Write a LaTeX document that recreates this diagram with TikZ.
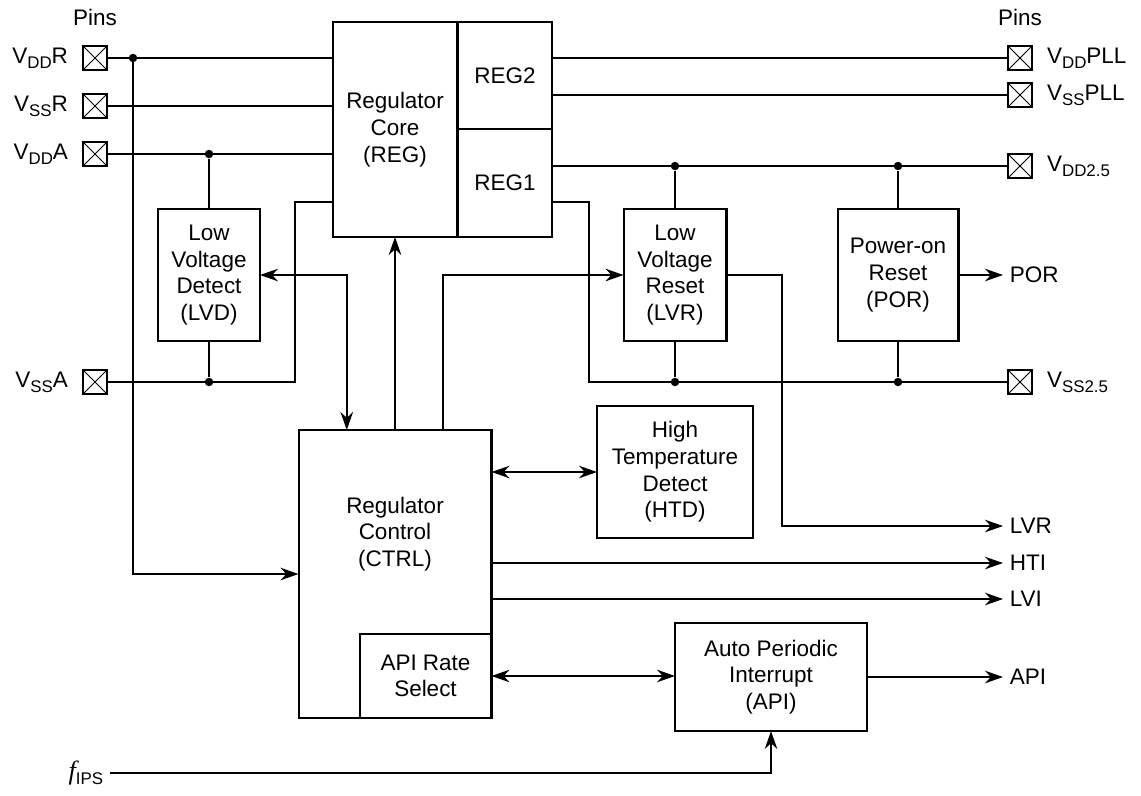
\documentclass[tikz,border=0pt]{standalone}
\usepackage{fontspec}
\setmainfont{Liberation Sans}
\newfontfamily\fserif{Liberation Serif}
\usetikzlibrary{arrows.meta,calc,positioning}
\newcommand{\lowtx}[1]{\raisebox{-0.4ex}{\fontsize{9.6}{10}\selectfont #1}}

\begin{document}
\begin{tikzpicture}[x=0.02cm,y=-0.02cm,line width=1.15pt,
  every node/.style={font=\fontsize{12.8}{15.2}\selectfont,align=center},
  blk/.style={draw,inner sep=0pt,outer sep=0pt},
  padbox/.style={draw,line width=0.8pt,minimum size=0.48cm,inner sep=0pt,
    path picture={\draw[line width=0.5pt] (path picture bounding box.north west)--(path picture bounding box.south east)
      (path picture bounding box.north east)--(path picture bounding box.south west);}},
  arr/.style={-{Stealth[length=3.6mm,width=2.5mm]}},
  darr/.style={{Stealth[length=3.6mm,width=2.5mm]}-{Stealth[length=3.6mm,width=2.5mm]}},
  dot/.style={circle,fill,inner sep=0pt,minimum size=0.17cm}]
  \useasboundingbox (0,0) rectangle (1141,795);
  % blocks
  \node[blk,minimum width=2.5cm,minimum height=4.3cm] (regcore) at (395,129.5) {Regulator\\Core\\(REG)};
  \node[blk,minimum width=1.9cm,minimum height=2.14cm,anchor=north west] (reg2) at (regcore.north east) {REG2};
  \node[blk,minimum width=1.9cm,minimum height=2.16cm,anchor=north west] (reg1) at (reg2.south west) {REG1};
  \node[blk,minimum width=2.04cm,minimum height=2.64cm] (lvd) at (209,275) {Low\\Voltage\\Detect\\(LVD)};
  \node[blk,minimum width=2.06cm,minimum height=2.64cm] (lvr) at (675,275) {Low\\Voltage\\Reset\\(LVR)};
  \node[blk,minimum width=2.42cm,minimum height=2.64cm] (por) at (898,275) {Power-on\\Reset\\(POR)};
  \node[blk,minimum width=3.12cm,minimum height=2.64cm] (htd) at (675,472) {High\\Temperature\\Detect\\(HTD)};
  \node[blk,minimum width=3.86cm,minimum height=5.76cm] (ctrl) at (395,574) {};
  \node (ctrltxt) at (395,534) {Regulator\\Control\\(CTRL)};
  \node[blk,minimum width=2.64cm,minimum height=1.68cm,anchor=south east] (apirs) at (ctrl.south east) {API Rate\\Select};
  \node[blk,minimum width=3.84cm,minimum height=2.16cm] (api) at (771,677) {Auto Periodic\\Interrupt\\(API)};
  % pins
  \node (pinsl) at (95,17) {Pins};
  \node (pinsr) at (1020,17) {Pins};
  \node[padbox,label={[label distance=1.5mm]left:V\lowtx{DD}R}] (pvddr) at (95,58) {};
  \node[padbox,label={[label distance=1.5mm]left:V\lowtx{SS}R}] (pvssr) at (95,106) {};
  \node[padbox,label={[label distance=1.5mm]left:V\lowtx{DD}A}] (pvdda) at (95,154) {};
  \node[padbox,label={[label distance=1.5mm]left:V\lowtx{SS}A}] (pvssa) at (95,382) {};
  \node[padbox,label={[label distance=1.5mm]right:V\lowtx{DD}PLL}] (pvddpll) at (1020,58) {};
  \node[padbox,label={[label distance=1.5mm]right:V\lowtx{SS}PLL}] (pvsspll) at (1020,95) {};
  \node[padbox,label={[label distance=1.5mm]right:V\lowtx{DD2.5}}] (pvdd25) at (1020,166) {};
  \node[padbox,label={[label distance=1.5mm]right:V\lowtx{SS2.5}}] (pvss25) at (1020,382) {};
  % outputs
  \node[anchor=west] (opor) at (1003,275) {POR};
  \node[anchor=west] (olvr) at (1003,526) {LVR};
  \node[anchor=west] (ohti) at (1003,563) {HTI};
  \node[anchor=west] (olvi) at (1003,599) {LVI};
  \node[anchor=west] (oapi) at (1003,677) {API};
  \node[anchor=east] (fips) at (110,773) {{\fontsize{15}{15}\fserif\itshape f}\lowtx{IPS}};
  % junctions
  \node[dot] (dvddr) at (133,58) {};
  \node[dot] (dvdda) at (209,154) {};
  \node[dot] (dvssa) at (209,382) {};
  \node[dot] (dlvrt) at (675,166) {};
  \node[dot] (dport) at (898,166) {};
  \node[dot] (dlvrb) at (675,382) {};
  \node[dot] (dporb) at (898,382) {};
  \coordinate (vssabend) at (295,202);
  \coordinate (vss25bend) at (589,202);
  \coordinate (lvrbend) at (782,275);
  \coordinate (ctrlA) at ($(ctrl.north west)!0.25!(ctrl.north east)$);
  \coordinate (ctrlB) at ($(ctrl.north west)!0.75!(ctrl.north east)$);
  % supply lines
  \draw (pvddr) -- (pvddr -| regcore.west);
  \draw (pvssr) -- (pvssr -| regcore.west);
  \draw (pvdda) -- (pvdda -| regcore.west);
  \draw (pvssa) -- (vssabend |- pvssa) -- (vssabend) -- (vssabend -| regcore.west);
  \draw (dvdda) -- (lvd.north);
  \draw (dvssa) -- (lvd.south);
  \draw[arr] (dvddr.center) |- (ctrl.west);
  \draw (pvddpll) -- (pvddpll -| reg2.east);
  \draw (pvsspll) -- (pvsspll -| reg2.east);
  \draw (pvdd25) -- (pvdd25 -| reg1.east);
  \draw (pvss25) -- (vss25bend |- pvss25) -- (vss25bend) -- (vss25bend -| reg1.east);
  \draw (dlvrt) -- (lvr.north);
  \draw (dport) -- (por.north);
  \draw (dlvrb) -- (lvr.south);
  \draw (dporb) -- (por.south);
  % signals
  \draw[arr] (por.east) -- (opor.west);
  \draw[darr] (lvd.east) -| (ctrlA);
  \draw[arr] (ctrl.north) -- (regcore.south);
  \draw[arr] (ctrlB) |- (lvr.west);
  \draw[arr] (lvr.east) -- (lvrbend) |- (olvr.west);
  \draw[darr] (htd.west -| ctrl.east) -- (htd.west);
  \draw[arr] (ohti.west -| ctrl.east) -- (ohti.west);
  \draw[arr] (olvi.west -| ctrl.east) -- (olvi.west);
  \draw[darr] (apirs.east) -- (apirs.east -| api.west);
  \draw[arr] (api.east) -- (oapi.west);
  \draw[arr] (fips.east) -| (api.south);
\end{tikzpicture}
\end{document}
